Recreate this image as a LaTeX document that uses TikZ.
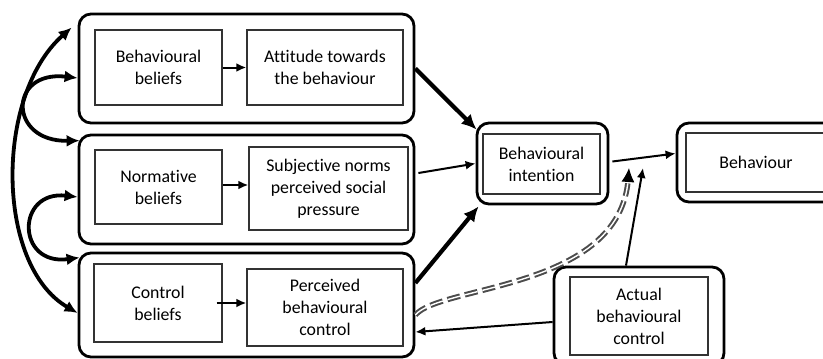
\documentclass[tikz,border=0pt]{standalone}
\usepackage{fontspec}
\setmainfont{Carlito}[Ligatures=NoCommon]
\usetikzlibrary{arrows.meta,calc}
\begin{document}
\begin{tikzpicture}[x=1pt,y=-1pt,
  outer/.style={draw=black, line width=2.8pt, rounded corners=12pt, inner sep=0pt, fill=white},
  inbox/.style={draw=black!80, line width=1.4pt, inner sep=0pt, align=center,
    font=\fontsize{17.8}{22}\selectfont, text=black},
  thinarr/.style={line width=2pt, -{Latex[length=10pt,width=9pt]}},
  thickarr/.style={line width=4.2pt, -{Latex[length=15pt,width=14pt]}},
  arcarr/.style={line width=3.8pt, {Latex[length=13pt,width=12pt]}-{Latex[length=13pt,width=12pt]}},
  dbl/.style={draw=black!70, line width=2pt, double=white, double distance=1.4pt, dash pattern=on 13pt off 5pt, shorten >=11pt},
  tiponly/.style={line width=1.2pt, dash pattern=on 0pt off 3000pt, -{Latex[length=14pt,width=13pt]}}
]
\useasboundingbox (0,0) rectangle (823,359);
\clip (0,0) rectangle (823,359);

% outer boxes
\node[outer, minimum width=335pt, minimum height=109pt] (o1) at (246.5,68.5) {};
\node[outer, minimum width=335pt, minimum height=109pt] (o2) at (246.5,189.5) {};
\node[outer, minimum width=335pt, minimum height=104pt] (o3) at (246.5,305) {};
\node[outer, minimum width=131pt, minimum height=81pt] (bio) at (542.5,163.5) {};
\node[outer, minimum width=158pt, minimum height=79pt] (beho) at (756,162.5) {};
\node[outer, minimum width=170pt, minimum height=98pt] (abco) at (639,316) {};

% inner boxes
\node[inbox, minimum width=127pt, minimum height=75pt] (bb) at (158.5,67.5) {Behavioural\\beliefs};
\node[inbox, minimum width=156pt, minimum height=75pt] (att) at (325,67.5) {Attitude towards\\the behaviour};
\node[inbox, minimum width=127pt, minimum height=74pt] (nb) at (158.5,187) {Normative\\beliefs};
\node[inbox, minimum width=159pt, minimum height=83pt] (sn) at (328.5,188.5) {Subjective norms\\perceived social\\pressure};
\node[inbox, minimum width=128pt, minimum height=78pt] (cb) at (158,303) {Control\\beliefs};
\node[inbox, minimum width=156pt, minimum height=77pt] (pbc) at (325,307.5) {Perceived\\behavioural\\control};
\node[inbox, minimum width=117pt, minimum height=60pt] (bi) at (541.5,164) {Behavioural\\intention};
\node[inbox, minimum width=140pt, minimum height=59pt] (beh) at (756,162.5) {Behaviour};
\node[inbox, minimum width=138pt, minimum height=78pt] (abc) at (639,316) {Actual\\behavioural\\control};

\coordinate (m1) at (629,168);
\coordinate (m2) at (643,168);

% inner arrows
\draw[thinarr] (bb.east) -- (att.west);
\draw[thinarr] ([shift={(0,-2)}]nb.east) -- ([shift={(0,-3.5)}]sn.west);
\draw[thinarr] ([shift={(-6,0)}]cb.east) -- ([shift={(0,-4.5)}]pbc.west);

% to intention
\draw[thickarr] (o1.east) -- ([shift={(1,8)}]bio.north west);
\draw[thinarr] ([shift={(3,-16.5)}]o2.east) -- (bio.west);
\draw[thickarr] ([shift={(0,-22)}]o3.east) -- ([shift={(3,1)}]bio.south west);
\draw[thinarr] ([shift={(3,-2)}]bio.east) -- ([shift={(0,-9)}]beho.west);

% actual behavioural control
\draw[thinarr] ([shift={(-13,0)}]abco.north) -- (m2);
\draw[thinarr] ([shift={(0,6)}]abco.west) -- ([shift={(0,27)}]o3.east);

% dashed double feedback
\draw[dbl] ([shift={(0,10)}]o3.east) .. controls (440,285) and (620,290) .. (m1);
\draw[tiponly] ([shift={(0,10)}]o3.east) .. controls (440,285) and (620,290) .. (m1);

% left correlation arcs
\draw[arcarr] ([shift={(-6,15)}]o1.north west) .. controls (-5,95) and (-5,265) .. ([shift={(0,8)}]o3.west);
\draw[arcarr] ([shift={(0,9.5)}]o1.west) .. controls (8,70) and (8,142) .. ([shift={(2,7)}]o2.north west);
\draw[arcarr] ([shift={(0,7.5)}]o2.west) .. controls (16,190) and (16,266) .. ([shift={(2,6)}]o3.north west);
\end{tikzpicture}
\end{document}
